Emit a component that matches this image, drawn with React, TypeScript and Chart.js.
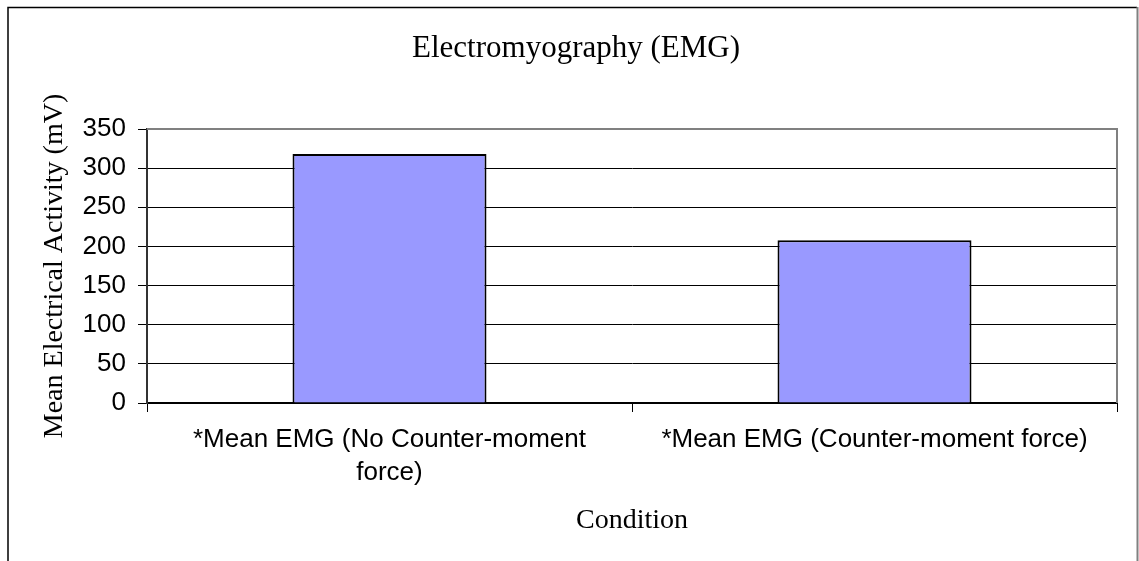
import React, { useEffect, useRef } from "react";
import { Chart, registerables } from "chart.js";

Chart.register(...registerables);

const categories: (string | string[])[] = [
  ["*Mean EMG (No Counter-moment", "force)"],
  "*Mean EMG (Counter-moment force)",
];
const values: number[] = [318, 208];
const yMin = 0;
const yMax = 350;
const yStep = 50;
const chartTitle = "Electromyography (EMG)";
const yAxisTitle = "Mean Electrical Activity (mV)";
const xAxisTitle = "Condition";

const SANS = "'Liberation Sans', Arial, sans-serif";
const SERIF = "'Liberation Serif', 'Times New Roman', serif";

const decor = {
  id: "decor",
  beforeDraw(chart: any) {
    const ctx = chart.ctx;
    ctx.save();
    ctx.fillStyle = "#ffffff";
    ctx.fillRect(0, 0, chart.width, chart.height);
    ctx.restore();
  },
  afterDatasetsDraw(chart: any) {
    const { ctx, chartArea } = chart;
    ctx.save();
    ctx.strokeStyle = "#808080";
    ctx.lineWidth = 2;
    ctx.beginPath();
    ctx.moveTo(chartArea.left, chartArea.top);
    ctx.lineTo(chartArea.right, chartArea.top);
    ctx.lineTo(chartArea.right, chartArea.bottom);
    ctx.stroke();
    ctx.restore();
  },
  afterDraw(chart: any) {
    const { ctx, chartArea } = chart;
    ctx.save();
    // outer frame
    ctx.lineWidth = 1.5;
    ctx.strokeStyle = "#000000";
    ctx.beginPath();
    ctx.moveTo(8, chart.height);
    ctx.lineTo(8, 7.5);
    ctx.lineTo(1137, 7.5);
    ctx.stroke();
    ctx.strokeStyle = "#808080";
    ctx.lineWidth = 2;
    ctx.beginPath();
    ctx.moveTo(1137.5, 7);
    ctx.lineTo(1137.5, chart.height);
    ctx.stroke();

    ctx.fillStyle = "#000000";
    // main title
    ctx.font = `31px ${SERIF}`;
    ctx.textAlign = "center";
    ctx.textBaseline = "alphabetic";
    ctx.fillText(chartTitle, 576, 57);
    // x axis title
    ctx.font = `28px ${SERIF}`;
    ctx.fillText(xAxisTitle, (chartArea.left + chartArea.right) / 2, 528);
    // y axis title
    ctx.translate(62, (chartArea.top + chartArea.bottom) / 2);
    ctx.rotate(-Math.PI / 2);
    ctx.fillText(yAxisTitle, 0, 0);
    ctx.restore();
  },
};

export default function App() {
  const canvasRef = useRef<HTMLCanvasElement | null>(null);

  useEffect(() => {
    const canvas = canvasRef.current;
    if (!canvas) return;
    const chart = new Chart(canvas, {
      type: "bar",
      data: {
        labels: categories,
        datasets: [
          {
            data: values,
            backgroundColor: "#9999FF",
            borderColor: "#000000",
            borderWidth: 2,
            categoryPercentage: 0.4,
            barPercentage: 1.0,
          },
        ],
      },
      options: {
        responsive: false,
        animation: false,
        devicePixelRatio: 1,
        layout: { padding: { left: 0, top: 129, right: 22, bottom: 0 } },
        plugins: {
          legend: { display: false },
          title: { display: false },
          tooltip: { enabled: false },
        },
        scales: {
          x: {
            offset: true,
            grid: {
              offset: true,
              drawOnChartArea: false,
              drawTicks: true,
              tickLength: 9,
              tickColor: "#000000",
              color: "#000000",
            },
            border: { display: true, color: "#000000", width: 2 },
            ticks: {
              autoSkip: false,
              maxRotation: 0,
              minRotation: 0,
              padding: 12,
              color: "#000000",
              font: { family: SANS, size: 26, lineHeight: 1.25 },
            },
            afterFit(scale: any) {
              scale.height = 158;
            },
          },
          y: {
            min: yMin,
            max: yMax,
            ticks: {
              stepSize: yStep,
              padding: 12,
              color: "#000000",
              font: { family: SANS, size: 26 },
            },
            grid: {
              color: "#000000",
              lineWidth: 1,
              drawTicks: true,
              tickLength: 9,
              tickColor: "#000000",
            },
            border: { display: true, color: "#333333", width: 2 },
            afterFit(scale: any) {
              scale.width = 147;
            },
          },
        },
      },
      plugins: [decor],
    });
    return () => chart.destroy();
  }, []);

  return (
    <div style={{ position: "absolute", left: 0, top: 0, width: 1139, height: 561, overflow: "hidden" }}>
      <canvas ref={canvasRef} width={1139} height={561} />
    </div>
  );
}
